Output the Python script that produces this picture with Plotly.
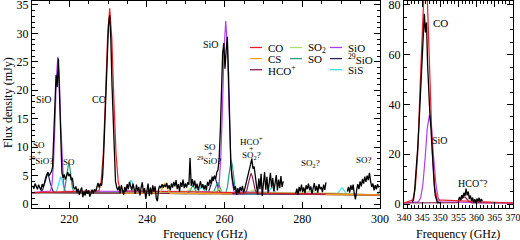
import numpy as np
import plotly.graph_objects as go

# ---------------- data ----------------
# observed spectrum, segments with regular channel spacing (GHz, mJy)
chan_step = 0.3
obsA_start = 210.6
obsA = [3.2, 2.7, 3.6, 3.1, 2.6, 3.4, 2.9, 2.4, 3.5, 3.0,
        3.6, 4.4, 5.2, 5.6, 5.0, 5.4, 5.7, 6.5, 11.0, 17.5,
        22.7, 20.6, 25.6, 19.0, 11.5, 5.5, 4.6, 5.2, 4.3, 5.0,
        5.6, 4.9, 5.3, 4.2, 4.6, 3.0, 2.6, 3.1, 2.0, 2.7,
        1.6, 2.4, 2.9, 1.2, 2.2, 1.5, 2.6, 1.8, 2.4, 1.3,
        2.0, 2.5, 1.9, 2.6, 2.2, 3.1, 3.7, 2.9, 3.6, 3.2,
        5.0, 9.5, 15.5, 21.5, 27.0, 31.5, 33.2, 29.0, 21.0, 14.0,
        8.0, 4.0, 3.0, 2.4, 3.1, 1.9, 3.3, 2.5, 1.6, 3.0,
        2.2, 3.5, 2.6, 3.9, 3.2, 2.4, 3.6, 2.8, 1.8, 3.4,
        2.3, 3.0, 1.5, 2.9, 3.8, 2.0, 2.8, 0.9, 2.5, 3.6,
        1.4, 2.9, 1.7, 3.3, 2.2, 3.1, 1.0, 0.5, 2.6, 3.2,
        2.8, 3.5, 2.9, 3.4, 3.0, 3.7, 2.7, 3.3, 2.4, 3.6,
        2.9, 3.9, 3.1, 4.2, 2.6, 3.5, 2.2, 3.8, 3.0, 4.3,
        2.8, 3.6, 2.9, 3.8, 3.4, 8.1, 3.2, 4.4, 3.1, 4.1,
        2.7, 3.6, 2.4, 3.2, 4.0, 2.8, 3.5, 2.6, 3.3, 2.4,
        3.9, 3.2, 4.3, 3.6, 4.8, 4.1, 5.0, 4.4, 5.6, 6.0,
        8.0, 13.0, 20.0, 26.5, 28.3, 23.8, 27.0, 29.4, 23.0, 13.5,
        7.0, 4.8, 3.6, 2.5, 3.1, 1.6, 2.8, 1.9, 3.0, 2.3,
        3.2, 2.0, 2.7, 3.5, 4.4, 5.2, 5.9, 7.0, 8.0, 6.2,
        6.6, 4.6, 3.2, 1.7, 4.5, 2.6, 5.3, 1.4, 3.6, 5.6,
        2.5, 4.8, 2.0, 3.9, 5.5, 2.9, 4.6, 2.2, 3.7, 5.1,
        2.4, 4.3, 2.8, 4.9, 3.0, 4.0]
obsB_start = 278.3
obsB = [1.8, 2.7, 1.6, 3.0, 2.2, 3.4, 2.1, 2.9, 1.9, 3.3, 2.6, 3.6, 2.4, 3.1,
        1.8, 2.9, 3.7, 2.3, 3.2, 2.0, 3.5, 2.6, 3.0, 2.1, 3.4, 2.5, 3.8]
obsC_start = 291.6
obsC = [2.2, 3.0, 2.0, 3.3, 2.5, 3.4, 1.8, 0.8, 2.4, 3.5, 2.6, 4.0, 3.1, 4.4,
        3.6, 4.8, 3.9, 5.0, 4.2, 5.5, 4.0, 3.0, 3.6, 2.4, 3.3, 2.6, 3.5, 2.9]
obsR1_start = 342.3
obsR1 = [0.8, 1.6, 5.0, 10.0, 16.0, 23.0, 31.0, 40.0, 50.0, 61.0, 71.0, 76.5, 69.0,
         73.0, 56.0, 43.0, 37.0, 31.0, 22.0, 14.0, 8.0, 3.5, 1.2, 0.5, 0.8, 0.3]
obsR2_start = 355.0
obsR2 = [1.5, 2.8, 1.6, 3.6, 2.4, 4.5, 3.2, 6.2, 3.5, 5.0, 2.0, 3.4, 1.2, 2.6,
         0.6, 1.9, 0.4, 2.2, 1.0, 2.5, 0.8, 2.0, 1.2]

# model spectra (frequency, flux) per molecule, left panel
co_f = [210.4, 227.65, 228.2, 228.75, 229.3, 229.85, 230.4, 230.95, 231.5, 232.05, 232.6, 233.15, 300.0]
co_v = [2.00, 2.33, 3.94, 8.74, 18.16, 29.20, 34.41, 29.20, 18.16, 8.74, 3.94, 2.33, 1.60]
cs_f = [233.2, 242.975, 243.3, 243.625, 243.95, 244.275, 244.6, 244.925, 245.25, 245.575, 245.9, 246.225, 262.0, None, 286.0, 300.0]
cs_v = [1.90, 1.86, 1.95, 2.22, 2.74, 3.35, 3.64, 3.35, 2.74, 2.22, 1.95, 1.86, 1.78, None, 1.66, 1.60]
hco_f = [210.4, 265.05, 265.4, 265.75, 266.1, 266.45, 266.8, 267.15, 267.5, 267.85, 268.2, 268.55, 300.0]
hco_v = [2.00, 1.80, 1.98, 2.52, 3.58, 4.82, 5.40, 4.82, 3.58, 2.52, 1.98, 1.80, 1.60]
so2_f = [210.4, 240.0, 245.0, 248.0, 250.5, 251.2, 252.0, 254.0, 256.0, 258.0, 258.6, 259.3, 262.0,
         264.0, 266.3, 267.3, 268.3, 271.0, 275.0, 280.0, 282.3, 284.0, 288.0, 292.0, 300.0]
so2_v = [2.00, 1.87, 2.10, 2.15, 2.25, 2.70, 2.20, 2.10, 2.05, 2.30, 2.75, 2.10, 2.05,
         2.00, 2.10, 2.45, 2.05, 2.05, 2.00, 1.98, 2.25, 1.95, 1.90, 1.80, 1.62]
so_f = [210.4, 218.35, 218.65, 218.95, 219.25, 219.55, 219.85, 220.15, 220.45, 220.75, 221.05, 221.35,
        250.3, 250.6, 250.9, 251.2, 251.5, 251.8, 252.1, 252.4, 252.7, 253.0, 253.3,
        256.575, 256.9, 257.225, 257.55, 257.875, 258.2, 258.525, 258.85, 259.175, 259.5, 259.825,
        260.075, 260.4, 260.725, 261.05, 261.375, 261.7, 262.025, 262.35, 262.675, 263.0, 263.325,
        298.9, 299.25, 299.6, 299.95, 300.3]
so_v = [2.00, 2.03, 2.29, 3.07, 4.61, 6.42, 7.26, 6.42, 4.61, 3.07, 2.29, 2.03,
        1.83, 1.90, 2.10, 2.51, 2.99, 3.21, 2.99, 2.51, 2.10, 1.90, 1.83,
        1.82, 1.92, 2.21, 2.79, 3.47, 3.79, 3.47, 2.79, 2.21, 1.92, 1.82,
        1.85, 2.14, 3.01, 4.72, 6.73, 7.67, 6.73, 4.72, 3.01, 2.14, 1.85,
        1.61, 1.65, 1.82, 2.34, 3.35]
sio_f = [210.4, 215.175, 215.55, 215.925, 216.3, 216.675, 217.05, 217.425, 217.8, 218.175, 218.55, 218.925,
         258.175, 258.6, 259.025, 259.45, 259.875, 260.3, 260.725, 261.15, 261.575, 262.0, 262.425, 300.0]
sio_v = [2.00, 2.28, 3.46, 6.99, 13.92, 22.07, 25.87, 22.07, 13.92, 6.99, 3.46, 2.28,
         2.18, 3.68, 8.16, 16.98, 27.35, 32.18, 27.35, 16.98, 8.16, 3.68, 2.18, 1.60]
sio29_f = [210.4, 212.475, 212.85, 213.225, 213.6, 213.975, 214.35, 214.725, 215.1, 215.475, 215.85, 216.225,
           255.175, 255.6, 256.025, 256.45, 256.875, 257.3, 257.725, 258.15, 258.575, 259.0, 259.425, 300.0]
sio29_v = [2.00, 2.02, 2.19, 2.69, 3.68, 4.84, 5.38, 4.84, 3.68, 2.69, 2.19, 2.02,
           1.83, 1.98, 2.42, 3.29, 4.31, 4.79, 4.31, 3.29, 2.42, 1.98, 1.83, 1.60]
sis_f = [210.4, 216.3, 216.6, 216.9, 217.2, 217.5, 217.8, 218.1, 218.4, 218.7, 219.0, 219.3,
         234.4, 234.7, 235.0, 235.3, 235.6, 235.9, 236.2, 236.5, 236.8, 237.1, 237.4,
         252.475, 252.8, 253.125, 253.45, 253.775, 254.1, 254.425, 254.75, 255.075, 255.4, 255.725,
         270.45, 270.8, 271.15, 271.5, 271.85, 272.2, 272.55, 272.9, 273.25, 273.6, 273.95,
         288.45, 288.8, 289.15, 289.5, 289.85, 290.2, 290.55, 290.9, 291.25, 291.6, 291.95, 300.0]
sis_v = [2.00, 2.01, 2.15, 2.56, 3.39, 4.35, 4.80, 4.35, 3.39, 2.56, 2.15, 2.01,
         1.92, 2.03, 2.37, 3.04, 3.82, 4.19, 3.82, 3.04, 2.37, 2.03, 1.92,
         1.82, 1.88, 2.07, 2.45, 2.89, 3.10, 2.89, 2.45, 2.07, 1.88, 1.82,
         1.74, 1.80, 1.97, 2.32, 2.73, 2.92, 2.73, 2.32, 1.97, 1.80, 1.74,
         1.66, 1.72, 1.89, 2.24, 2.65, 2.84, 2.65, 2.24, 1.89, 1.72, 1.66, 1.60]

# right panel models
coR_f = [340.0, 342.425, 343.1, 343.775, 344.45, 345.125, 345.8, 346.475, 347.15, 347.825, 348.5, 349.175, 370.0]
coR_v = [0.4, 1.64, 6.34, 20.35, 47.9, 80.3, 95.4, 80.3, 47.9, 20.35, 6.34, 1.64, 0.4]
sioR_f = [340.0, 344.0, 344.6, 345.2, 345.8, 346.4, 347.0, 347.6, 348.2, 348.8, 349.4, 350.0, 370.0]
sioR_v = [0.4, 0.86, 2.61, 7.83, 18.1, 30.2, 35.8, 30.2, 18.1, 7.83, 2.61, 0.86, 0.4]
hcoR_f = [340.0, 354.0, 354.5, 355.0, 355.5, 356.0, 356.5, 357.0, 357.5, 358.0, 358.5, 359.0, 370.0]
hcoR_v = [0.4, 0.43, 0.56, 0.93, 1.65, 2.50, 2.90, 2.50, 1.65, 0.93, 0.56, 0.43, 0.4]

# tick labels
left_x_ticks = [220, 240, 260, 280, 300]
right_x_ticks = [340, 345, 350, 355, 360, 365, 370]
left_y_ticks = [0, 5, 10, 15, 20, 25, 30, 35]
right_y_ticks = [0, 20, 40, 60, 80]

legend_names = ["CO", "CS", "HCO<sup>+</sup>", "SO<sub>2</sub>", "SO", "SiO", "<sup>29</sup>SiO", "SiS"]

# ---------------- styling ----------------
FONT = "Liberation Serif"
C = {"CO": "#ee1c24", "CS": "#f7a21b", "HCO": "#8a1f52", "SO2": "#a6e06a",
     "SO": "#2a9a7c", "SiO": "#b23cf0", "29SiO": "#2a2062", "SiS": "#3fdcec"}
legend_colors = [C["CO"], C["CS"], C["HCO"], C["SO2"], C["SO"], C["SiO"], C["29SiO"], C["SiS"]]

fig = go.Figure()

def line(x, y, color, width, ax="1"):
    fig.add_trace(go.Scatter(
        x=x, y=y, mode="lines", line=dict(color=color, width=width),
        xaxis="x" if ax == "1" else "x2", yaxis="y" if ax == "1" else "y2",
        showlegend=False, hoverinfo="skip", connectgaps=False))

def grid(start, vals):
    return start + chan_step * np.arange(len(vals))

mw = 1.2
# left panel models (bottom to top)
line(sis_f, sis_v, C["SiS"], mw)
line(sio29_f, sio29_v, C["29SiO"], mw)
line(sio_f, sio_v, C["SiO"], mw)
line(so_f, so_v, C["SO"], mw)
line(so2_f, so2_v, C["SO2"], mw)
line(hco_f, hco_v, C["HCO"], mw)
line(co_f, co_v, C["CO"], mw)
line(cs_f, cs_v, C["CS"], mw)
# observed
for s, v in [(obsA_start, obsA), (obsB_start, obsB), (obsC_start, obsC)]:
    line(grid(s, v), v, "black", 1.3)

# right panel
line(sioR_f, sioR_v, C["SiO"], mw, "2")
line(hcoR_f, hcoR_v, C["HCO"], mw, "2")
line(coR_f, coR_v, C["CO"], mw, "2")
for s, v in [(obsR1_start, obsR1), (obsR2_start, obsR2)]:
    line(grid(s, v), v, "black", 1.3, "2")

W, H = 520, 240
ML, MR, MT, MB = 32, 7, 1, 32
PW, PH = W - ML - MR, H - MT - MB

def px(xp):
    return (xp - ML) / PW

def py(yp):
    return (H - MB - yp) / PH

def axis_common(size):
    return dict(showline=True, linecolor="black", linewidth=1, mirror="ticks",
                ticks="inside", ticklen=6, tickcolor="black", showgrid=False,
                zeroline=False, tickfont=dict(family=FONT, size=size, color="black"),
                tickangle=0, tickmode="array", ticklabeloverflow="allow")

fig.update_layout(
    width=W, height=H, margin=dict(l=ML, r=MR, t=MT, b=MB, autoexpand=False),
    paper_bgcolor="white", plot_bgcolor="white",
    font=dict(family=FONT, color="black"),
    xaxis=dict(domain=[0, px(380)], range=[210.4, 300.02], tickvals=left_x_ticks,
               minor=dict(dtick=5, tick0=200, ticks="inside", ticklen=3, tickcolor="black"),
               anchor="y", **axis_common(12)),
    yaxis=dict(domain=[0, 1], range=[-0.7, 35.7], tickvals=left_y_ticks,
               minor=dict(dtick=1, tick0=0, ticks="inside", ticklen=3, tickcolor="black"),
               anchor="x", **axis_common(12)),
    xaxis2=dict(domain=[px(404), 1], range=[340, 370.02], tickvals=right_x_ticks,
                minor=dict(dtick=1, tick0=340, ticks="inside", ticklen=3, tickcolor="black"),
                anchor="y2", **axis_common(10)),
    yaxis2=dict(domain=[0, 1], range=[-1.6, 81.6], tickvals=right_y_ticks,
                minor=dict(dtick=5, tick0=0, ticks="inside", ticklen=3, tickcolor="black"),
                anchor="x2", **axis_common(12)),
)

ann = []

def text(x, y, s, size=10, xref="x", yref="y"):
    ann.append(dict(x=x, y=y, text=s, xref=xref, yref=yref, showarrow=False,
                    xanchor="center", yanchor="middle",
                    font=dict(family=FONT, size=size, color="black")))

# axis titles
text(px(205), py(234), "Frequency (GHz)", 12, "paper", "paper")
text(px(458), py(234), "Frequency (GHz)", 12, "paper", "paper")
ann.append(dict(x=px(8), y=py(103), xref="paper", yref="paper", text="Flux density (mJy)",
                showarrow=False, textangle=-90, xanchor="center", yanchor="middle",
                font=dict(family=FONT, size=12, color="black")))

# line labels, left panel
text(213.6, 18.4, "SiO")
text(227.6, 18.4, "CO")
text(256.6, 28.1, "SiO")
text(212.2, 10.3, "SO", 9)
text(212.3, 9.1, "+", 8)
text(212.7, 7.8, "<sup>29</sup>SiO?", 9)
text(219.8, 7.4, "SO", 9)
text(256.3, 10.0, "SO", 9)
text(256.3, 8.9, "+", 8)
text(256.0, 7.7, "<sup>29</sup>SiO?", 9)
text(266.9, 11.0, "HCO<sup>+</sup>", 9)
text(267.0, 9.8, "+", 8)
text(267.0, 8.5, "SO<sub>2</sub>?", 9)
text(282.1, 7.2, "SO<sub>2</sub>?", 9)
text(295.8, 7.7, "SO?", 9)
# right panel
ann.append(dict(x=350.1, y=72.6, text="CO", xref="x2", yref="y2", showarrow=False,
                font=dict(family=FONT, size=11, color="black")))
ann.append(dict(x=350.0, y=25.7, text="SiO", xref="x2", yref="y2", showarrow=False,
                font=dict(family=FONT, size=10, color="black")))
ann.append(dict(x=359.0, y=8.3, text="HCO<sup>+</sup>?", xref="x2", yref="y2", showarrow=False,
                font=dict(family=FONT, size=10, color="black")))

# manual legend: 3 columns
col_x = [250, 290, 330]
row_y = [47.5, 58.6, 69.7]
slots = [(0, 0), (0, 1), (0, 2), (1, 0), (1, 1), (2, 0), (2, 1), (2, 2)]
shapes = []
for (c, r), name, col in zip(slots, legend_names, legend_colors):
    shapes.append(dict(type="line", xref="paper", yref="paper",
                       x0=px(col_x[c]), x1=px(col_x[c] + 12), y0=py(row_y[r]), y1=py(row_y[r]),
                       line=dict(color=col, width=1.3)))
    ann.append(dict(x=px(col_x[c] + 16), y=py(row_y[r]), xref="paper", yref="paper", text=name,
                    showarrow=False, xanchor="left", yanchor="middle",
                    font=dict(family=FONT, size=11, color="black")))

fig.update_layout(annotations=ann, shapes=shapes)
fig.write_html("out.html")
